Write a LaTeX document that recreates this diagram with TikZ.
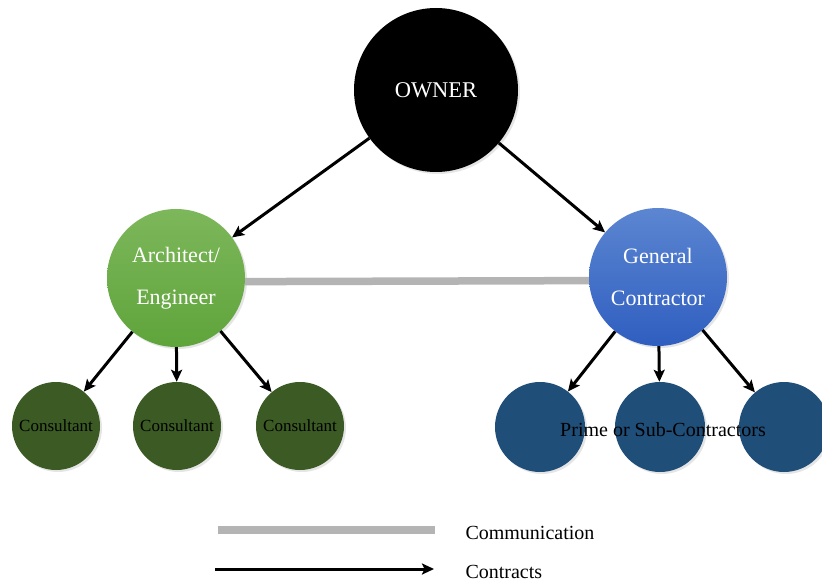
\documentclass[tikz,border=0pt]{standalone}
\usepackage{fontspec}
\setmainfont{Liberation Serif}
\usetikzlibrary{shadows,arrows.meta}
\definecolor{archtop}{HTML}{7DB75B}
\definecolor{archbot}{HTML}{5FA43B}
\definecolor{consgreen}{HTML}{3B5A24}
\definecolor{gctop}{HTML}{5C86D1}
\definecolor{gcbot}{HTML}{2F5EC0}
\definecolor{subblue}{HTML}{1F4E79}
\definecolor{commgray}{HTML}{B4B4B4}
\begin{document}
\begin{tikzpicture}[x=1pt,y=-1pt,
  party/.style={circle,inner sep=0pt,drop shadow={opacity=0.2,shadow xshift=2pt,shadow yshift=-2pt}},
  contract/.style={-{Stealth[length=12pt,width=11pt,inset=2.5pt]},line width=3pt},
  comm/.style={commgray,line width=7.5pt}]
  \useasboundingbox[fill=white] (0,0) rectangle (822,585);
  \node[party,fill=black,minimum size=164pt,text=white,font=\fontsize{22.5}{26}\selectfont] (owner) at (436,90) {OWNER};
  \node[party,top color=archtop,bottom color=archbot,minimum size=138pt,text=white,
        align=center,font=\fontsize{22}{42}\selectfont] (arch) at (176,278) {Architect/\\Engineer};
  \node[party,top color=gctop,bottom color=gcbot,minimum size=138pt,text=white,
        align=center,font=\fontsize{22}{42}\selectfont] (gc) at (658,277) {General\\Contractor};
  % consultants
  \foreach \i/\x in {1/56,2/177,3/300}
    \node[party,fill=consgreen,minimum size=88pt,font=\fontsize{17}{19}\selectfont] (c\i) at (\x,426) {Consultant};
  % prime or sub-contractors
  \foreach \i/\x in {1/540,2/660,3/784}
    \node[party,fill=subblue,minimum size=90pt] (s\i) at (\x,427) {};
  \node[font=\fontsize{20}{24}\selectfont] (subs) at (663,430) {Prime or Sub-Contractors};
  \draw[comm] (arch.-3) -- (gc.183);
  \path[contract]
    (owner) edge (arch) edge (gc)
    (arch) edge (c1) edge (c2) edge (c3)
    (gc) edge (s1) edge (s2) edge (s3);
  % legend
  \coordinate (comma) at (218,530);
  \coordinate (commb) at (435,530);
  \coordinate (conta) at (215,569);
  \coordinate (contb) at (434,569);
  \draw[comm] (comma) -- (commb);
  \draw[contract] (conta) -- (contb);
  \node[anchor=west,font=\fontsize{20}{24}\selectfont] (commtext) at (462,533) {Communication};
  \node[anchor=west,font=\fontsize{20}{24}\selectfont] (conttext) at (462,572) {Contracts};
\end{tikzpicture}
\end{document}
